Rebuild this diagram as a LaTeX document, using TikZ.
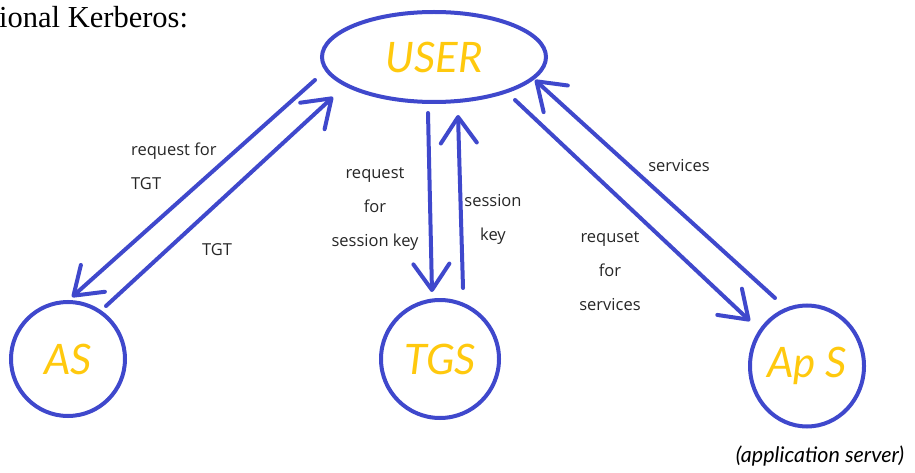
\documentclass[tikz,border=0pt]{standalone}
\usepackage{fontspec}
\setmainfont{Liberation Serif}
\newfontfamily\handfont{Lato}
\newfontfamily\labelfont{Open Sans}
\usetikzlibrary{arrows.meta,shapes.geometric}
\definecolor{penblue}{RGB}{63,72,204}
\definecolor{gold}{RGB}{255,201,14}
\tikzset{
  x=1pt, y=-1pt,
  party/.style={draw=penblue, line width=4pt, ellipse, inner sep=0pt,
    text=gold, font=\handfont\itshape\fontsize{42}{42}\selectfont},
  flow/.style={draw=penblue, line width=4pt, line cap=round, line join=round,
    -{Straight Barb[length=26pt,width=36pt,round]}},
  lbl/.style={text=black!85, inner sep=0pt,
    font=\labelfont\fontsize{16.5}{34}\selectfont},
}
\begin{document}
\begin{tikzpicture}
\useasboundingbox (0,0) rectangle (915,473);

% heading, cut off at the left edge
\node[anchor=base west, inner sep=0pt, font=\fontsize{30.5}{30.5}\selectfont] (head) at (-1,28) {ional Kerberos:};

% parties
\node[party, minimum width=224pt, minimum height=90pt] (user) at (434,57) {USER};
\node[party, minimum width=114pt, minimum height=114pt] (as) at (68,359) {AS};
\node[party, minimum width=118pt, minimum height=118pt] (tgs) at (440,359) {TGS};
\node[party, minimum width=114pt, minimum height=121pt] (aps) at (807,366) {Ap S};
\node[text=black, inner sep=0pt, font=\handfont\itshape\fontsize{21.5}{21.5}\selectfont] (apsnote) at (820,456) {(application server)};

% end points of the message arrows
\coordinate (u1) at (315,80);  \coordinate (as1) at (72,297);
\coordinate (as2) at (106,306); \coordinate (u2) at (333,97);
\coordinate (u3) at (428,113); \coordinate (tgs1) at (432,292);
\coordinate (tgs2) at (463,288); \coordinate (u4) at (458,115);
\coordinate (u5) at (515,100); \coordinate (aps1) at (750,321);
\coordinate (aps2) at (775,298); \coordinate (u6) at (535,80);

\draw[flow] (u1) -- (as1);
\draw[flow] (as2) -- (u2);
\draw[flow] (u3) -- (tgs1);
\draw[flow] (tgs2) -- (u4);
\draw[flow] (u5) -- (aps1);
\draw[flow] (aps2) -- (u6);

% message labels
\node[lbl, anchor=west, align=left] (l1) at (131,166) {request for\\TGT};
\node[lbl] (l2) at (217,250) {TGT};
\node[lbl, align=center] (l3) at (375,209) {request\\for\\session key};
\node[lbl, align=center] (l4) at (493,219) {session\\key};
\node[lbl] (l5) at (679,166) {services};
\node[lbl, align=center] (l6) at (610,271) {requset\\for\\services};
\end{tikzpicture}
\end{document}
